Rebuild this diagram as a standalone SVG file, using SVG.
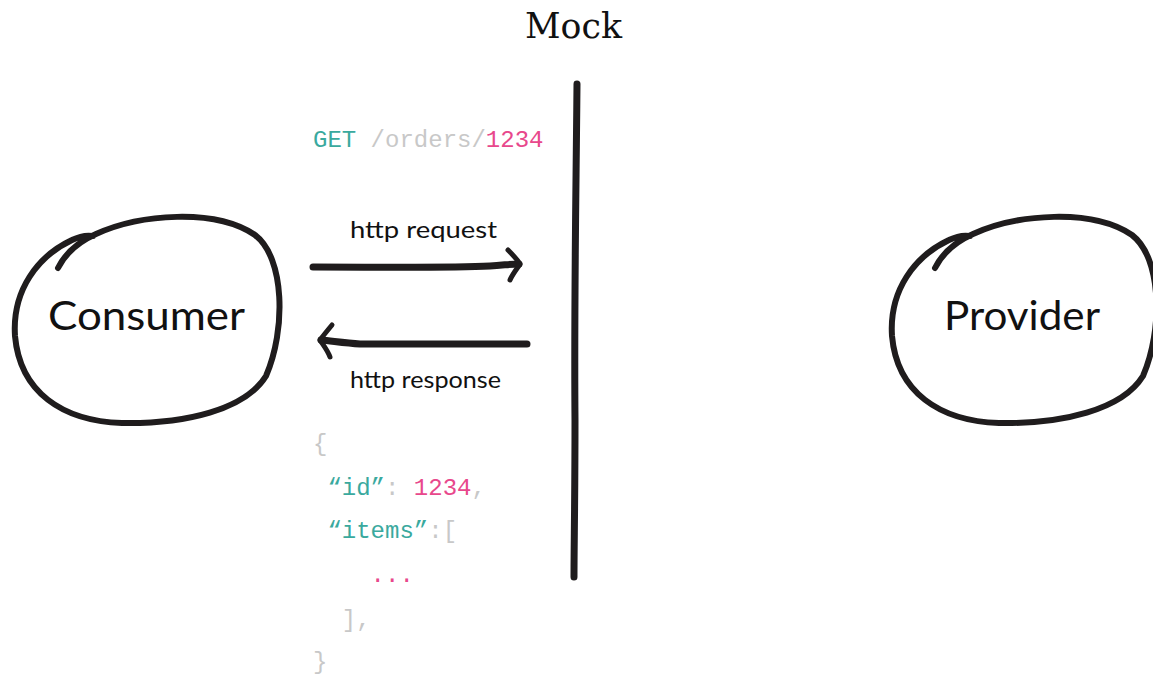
<svg xmlns="http://www.w3.org/2000/svg" width="1153" height="675" viewBox="0 0 1153 675">
  <style>
    .ink { fill: none; stroke: #1f1c1d; stroke-linecap: round; stroke-linejoin: round; }
    .loop { stroke-width: 6; }
    .wire { stroke-width: 7; }
    .label { font-family: Lato, "Open Sans", "Liberation Sans", sans-serif; fill: #111; }
    .node-label { font-size: 40px; }
    .edge-label { font-size: 24px; }
    .title { font-family: "DejaVu Serif", "Liberation Serif", serif; font-size: 36px; fill: #111; }
    .code { font-family: "Liberation Mono", "Courier New", monospace; font-size: 24px; fill: #c8c8c8; white-space: pre; }
    .key { fill: #3aa99e; }
    .num { fill: #e8488c; }
  </style>
  <defs>
    <!-- hand-drawn loop used for both participants -->
    <path id="sketch-loop" d="M58,268 C66,252 78,242 96,234 C140,214 215,208 255,235 C285,258 286,330 266,376 C245,410 185,424 122,423 C62,421 20,392 15,336 C12,290 38,256 72,240 C80,236 87,235 93,236"/>
  </defs>

  <rect width="1153" height="675" fill="#ffffff"/>

  <g id="mock">
    <text class="title" x="525" y="38" textLength="97" lengthAdjust="spacingAndGlyphs">Mock</text>
    <path class="ink wire" d="M577,84 C576,200 574,300 575,420 C575,500 574,545 574,577"/>
  </g>

  <g id="consumer">
    <use href="#sketch-loop" class="ink loop"/>
    <text class="label node-label" x="48" y="330" textLength="197" lengthAdjust="spacingAndGlyphs">Consumer</text>
  </g>

  <g id="provider">
    <use href="#sketch-loop" class="ink loop" transform="translate(877,0)"/>
    <text class="label node-label" x="944" y="330" textLength="156" lengthAdjust="spacingAndGlyphs">Provider</text>
  </g>

  <g id="connectors">
    <!-- request: consumer to mock -->
    <path class="ink wire" d="M313,267 C380,267 450,268 490,266 C505,265 512,264 519,264"/>
    <path class="ink" stroke-width="5" d="M508,250 C513,255 517,259 520,264 C516,270 512,275 510,280"/>
    <!-- response: mock back to consumer -->
    <path class="ink wire" d="M527,344 C470,344 400,344 360,344 C345,343 332,341 321,340"/>
    <path class="ink" stroke-width="5" d="M332,325 C327,331 323,336 320,340 C324,346 328,351 330,357"/>
  </g>

  <g id="edge-labels">
    <text class="label edge-label" x="350" y="238" textLength="147" lengthAdjust="spacingAndGlyphs">http request</text>
    <text class="label edge-label" x="350" y="388" textLength="151" lengthAdjust="spacingAndGlyphs">http response</text>
  </g>

  <g id="request-body">
    <text class="code" x="313" y="147"><tspan class="key">GET</tspan> /orders/<tspan class="num">1234</tspan></text>
  </g>

  <g id="response-body">
    <text class="code" x="313" y="451">{</text>
    <text class="code" x="313" y="495"> <tspan class="key">“id”</tspan>: <tspan class="num">1234</tspan>,</text>
    <text class="code" x="313" y="538"> <tspan class="key">“items”</tspan>:[</text>
    <text class="code num" x="313" y="582">    ...</text>
    <text class="code" x="313" y="627">  ],</text>
    <text class="code" x="313" y="669">}</text>
  </g>
</svg>
